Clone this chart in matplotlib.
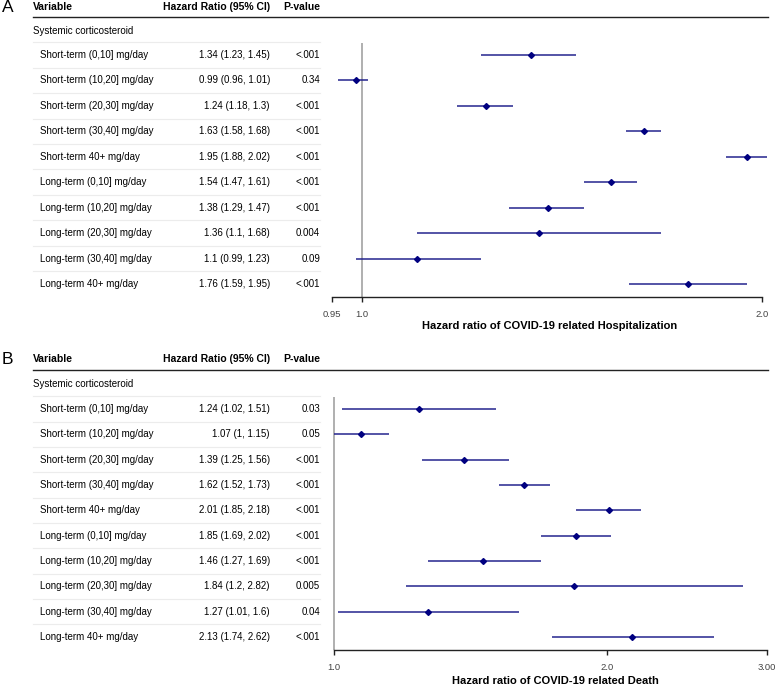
import matplotlib
matplotlib.use("Agg")
import matplotlib.pyplot as plt
import numpy as np

plt.rcParams['font.family'] = ['Liberation Sans', 'DejaVu Sans']

labels = ["Short-term (0,10] mg/day", "Short-term (10,20] mg/day", "Short-term (20,30] mg/day",
          "Short-term (30,40] mg/day", "Short-term 40+ mg/day", "Long-term (0,10] mg/day",
          "Long-term (10,20] mg/day", "Long-term (20,30] mg/day", "Long-term (30,40] mg/day",
          "Long-term 40+ mg/day"]

hosp_hr = [1.34, 0.99, 1.24, 1.63, 1.95, 1.54, 1.38, 1.36, 1.10, 1.76]
hosp_lo = [1.23, 0.96, 1.18, 1.58, 1.88, 1.47, 1.29, 1.10, 0.99, 1.59]
hosp_hi = [1.45, 1.01, 1.30, 1.68, 2.02, 1.61, 1.47, 1.68, 1.23, 1.95]
hosp_txt = ["1.34 (1.23, 1.45)", "0.99 (0.96, 1.01)", "1.24 (1.18, 1.3)", "1.63 (1.58, 1.68)",
            "1.95 (1.88, 2.02)", "1.54 (1.47, 1.61)", "1.38 (1.29, 1.47)", "1.36 (1.1, 1.68)",
            "1.1 (0.99, 1.23)", "1.76 (1.59, 1.95)"]
hosp_p = ["<.001", "0.34", "<.001", "<.001", "<.001", "<.001", "<.001", "0.004", "0.09", "<.001"]
hosp_ticks = [0.95, 1.0, 2.0]
hosp_ticklabels = ["0.95", "1.0", "2.0"]

death_hr = [1.24, 1.07, 1.39, 1.62, 2.01, 1.85, 1.46, 1.84, 1.27, 2.13]
death_lo = [1.02, 1.00, 1.25, 1.52, 1.85, 1.69, 1.27, 1.20, 1.01, 1.74]
death_hi = [1.51, 1.15, 1.56, 1.73, 2.18, 2.02, 1.69, 2.82, 1.60, 2.62]
death_txt = ["1.24 (1.02, 1.51)", "1.07 (1, 1.15)", "1.39 (1.25, 1.56)", "1.62 (1.52, 1.73)",
             "2.01 (1.85, 2.18)", "1.85 (1.69, 2.02)", "1.46 (1.27, 1.69)", "1.84 (1.2, 2.82)",
             "1.27 (1.01, 1.6)", "2.13 (1.74, 2.62)"]
death_p = ["0.03", "0.05", "<.001", "<.001", "<.001", "<.001", "<.001", "0.005", "0.04", "<.001"]
death_ticks = [1.0, 2.0, 3.0]
death_ticklabels = ["1.0", "2.0", "3.00"]

W, H = 780, 687
fig = plt.figure(figsize=(W / 100, H / 100), dpi=100)

def fx(px):
    return px / W

def fy(py):
    return 1 - py / H

FS = 7.0
FSB = 7.5
NAVY = '#24248e'

def panel(letter, y_head, y_line, y_sys, row0, dy, ax_left, ax_right, ax_top, ax_bot,
          xlim, ticks, ticklabels, hr, lo, hi, txt, pv, xlabel, x_xlabel, y_xlabel):
    fig.text(fx(2), fy(y_head), letter, fontsize=12.5, va='center', ha='left')
    fig.text(fx(33), fy(y_head), "Variable", fontsize=FSB, fontweight='bold', va='center')
    fig.text(fx(270), fy(y_head), "Hazard Ratio (95% CI)", fontsize=FSB, fontweight='bold',
             va='center', ha='right')
    fig.text(fx(283), fy(y_head), "P-value", fontsize=FSB, fontweight='bold', va='center')
    fig.add_artist(plt.Line2D([fx(33), fx(768)], [fy(y_line), fy(y_line)], color='#222222', lw=1.0))
    fig.text(fx(33), fy(y_sys), "Systemic corticosteroid", fontsize=7.0, va='center')
    for i in range(len(labels)):
        yc = row0 + i * dy
        fig.text(fx(40), fy(yc), labels[i], fontsize=FS, va='center')
        fig.text(fx(270), fy(yc), txt[i], fontsize=FS, va='center', ha='right')
        fig.text(fx(320), fy(yc), pv[i], fontsize=FS, va='center', ha='right')
        ys = yc - dy / 2
        fig.add_artist(plt.Line2D([fx(33), fx(320)], [fy(ys), fy(ys)], color='#ececec', lw=0.8))

    ax = fig.add_axes([fx(ax_left), fy(ax_bot), fx(ax_right) - fx(ax_left), fy(ax_top) - fy(ax_bot)])
    ax.set_xscale('log')
    n = len(hr)
    top_off = (ax_top - row0) / dy
    bot_off = (ax_bot - row0) / dy
    ax.set_ylim(bot_off, top_off)
    ax.set_xlim(*xlim)
    ax.axvline(1.0, color='#9a9a9a', lw=1.1, zorder=1)
    ypos = np.arange(n)
    ax.hlines(ypos, lo, hi, color=NAVY, lw=1.1, zorder=2)
    ax.plot(hr, ypos, linestyle='none', marker='D', ms=3.0, color='#000080', zorder=3)
    for s in ['top', 'right', 'left']:
        ax.spines[s].set_visible(False)
    ax.spines['bottom'].set_bounds(ticks[0], ticks[-1])
    ax.spines['bottom'].set_linewidth(1.0)
    ax.spines['bottom'].set_color('#222222')
    ax.set_yticks([])
    ax.set_xticks(ticks)
    ax.set_xticklabels(ticklabels)
    ax.xaxis.set_minor_locator(matplotlib.ticker.NullLocator())
    ax.tick_params(axis='x', length=3.5, width=1.0, labelsize=6.8, pad=6, color='#222222',
                   labelcolor='#444444')
    ax.patch.set_alpha(0)
    fig.text(fx(x_xlabel), fy(y_xlabel), xlabel, fontsize=8.0, fontweight='bold',
             va='center', ha='center')
    return ax

panel("A", 7, 17, 31, 55, 25.44, 320, 776, 42.5, 297, (0.93, 2.05),
      hosp_ticks, hosp_ticklabels, hosp_hr, hosp_lo, hosp_hi, hosp_txt, hosp_p,
      "Hazard ratio of COVID-19 related Hospitalization", 550, 326)

panel("B", 359, 370, 384, 409, 25.33, 322, 773.4, 396.5, 650, (0.97, 3.05),
      death_ticks, death_ticklabels, death_hr, death_lo, death_hi, death_txt, death_p,
      "Hazard ratio of COVID-19 related Death", 555, 681)

fig.savefig("out.png", dpi=100)
